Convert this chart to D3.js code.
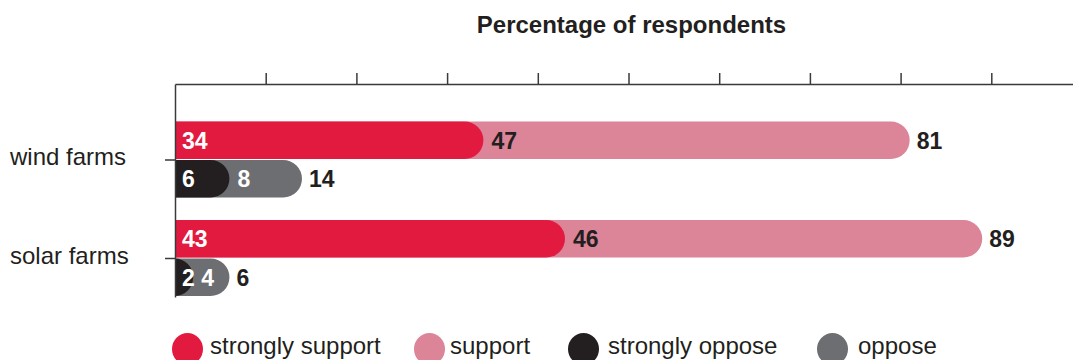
<!DOCTYPE html>
<html>
<head>
<meta charset="utf-8">
<script src="https://cdn.jsdelivr.net/npm/d3@7"></script>
<style>
  html, body { margin: 0; padding: 0; background: #fff; }
  svg { display: block; font-family: "Liberation Sans", Arial, Helvetica, sans-serif; }
</style>
</head>
<body>
<svg id="chart" width="1073" height="360"></svg>
<script>
// Survey results: share of respondents by attitude
const categories = ["wind farms", "solar farms"];
const stronglySupport = [34, 43];
const support = [47, 46];
const stronglyOppose = [6, 2];
const oppose = [8, 4];
const axisTicks = [10, 20, 30, 40, 50, 60, 70, 80, 90];
const legendLabels = ["strongly support", "support", "strongly oppose", "oppose"];
const legendColors = ["#e31a40", "#dc8498", "#231f20", "#6d6e72"];

const textColor = "#231f20";
const axisColor = "#3a3a3a";
const svg = d3.select("#chart");

const x = d3.scaleLinear().domain([0, 100]).range([175, 1082]);
const y = d3.scalePoint().domain(categories).range([160, 258.5]);
const barH = 37.5;
const gap = 1;

// Title
svg.append("text")
  .attr("x", 631.5).attr("y", 33)
  .attr("text-anchor", "middle")
  .attr("font-size", 24).attr("font-weight", "bold")
  .attr("fill", textColor)
  .text("Percentage of respondents");

// Bar with square left edge and rounded right end
function barPath(x0, x1, y0, h) {
  const w = Math.max(0, x1 - x0);
  const ry = h / 2;
  const rx = Math.min(ry, w);
  const y1 = y0 + h;
  return `M${x0},${y0}H${x1 - rx}A${rx},${ry} 0 0 1 ${x1},${y0 + ry}A${rx},${ry} 0 0 1 ${x1 - rx},${y1}H${x0}Z`;
}

const rows = categories.map((c, i) => ({
  cat: c,
  sStrong: stronglySupport[i], sPlain: support[i],
  oStrong: stronglyOppose[i], oPlain: oppose[i]
}));

const barsG = svg.append("g");
const labelG = svg.append("g")
  .attr("font-size", 23).attr("font-weight", "bold");

rows.forEach(r => {
  const yc = y(r.cat);
  const groups = [
    { top: yc - gap - barH, strong: r.sStrong, plain: r.sPlain, cs: legendColors[0], cp: legendColors[1], plainText: textColor },
    { top: yc, strong: r.oStrong, plain: r.oPlain, cs: legendColors[2], cp: legendColors[3], plainText: "#ffffff" }
  ];
  groups.forEach(g => {
    const total = g.strong + g.plain;
    const mid = g.top + barH / 2;
    barsG.append("path").attr("d", barPath(x(0), x(total), g.top, barH)).attr("fill", g.cp);
    barsG.append("path").attr("d", barPath(x(0), x(g.strong), g.top, barH)).attr("fill", g.cs);

    labelG.append("text").attr("x", x(0) + 7).attr("y", mid).attr("dy", "0.36em")
      .attr("fill", "#ffffff").text(g.strong);
    labelG.append("text").attr("x", x(g.strong) + 8).attr("y", mid).attr("dy", "0.36em")
      .attr("fill", g.plainText).text(g.plain);
    labelG.append("text").attr("x", x(total) + 7).attr("y", mid).attr("dy", "0.36em")
      .attr("fill", textColor).text(total);
  });
});

// Top axis (unlabelled ticks)
const axisTop = svg.append("g")
  .attr("transform", "translate(0,84)")
  .call(d3.axisTop(x).tickValues(axisTicks).tickSize(11).tickSizeOuter(0).tickFormat(""));
axisTop.select(".domain").attr("stroke", axisColor).attr("stroke-width", 1.5);
axisTop.selectAll(".tick line").attr("stroke", axisColor).attr("stroke-width", 1.5);

// Left axis with category ticks
const axisLeft = svg.append("g")
  .attr("transform", "translate(175,0)")
  .call(d3.axisLeft(d3.scaleLinear().domain([0, 1]).range([84, 297])).tickValues([]).tickSizeOuter(0));
axisLeft.select(".domain").attr("stroke", axisColor).attr("stroke-width", 1.5);
svg.append("g").selectAll("line").data(categories).join("line")
  .attr("x1", 165).attr("x2", 175)
  .attr("y1", d => y(d)).attr("y2", d => y(d))
  .attr("stroke", axisColor).attr("stroke-width", 1.5);

// Category labels
svg.append("g").selectAll("text").data(categories).join("text")
  .attr("x", 10).attr("y", d => y(d) + 5)
  .attr("font-size", 24).attr("fill", textColor)
  .text(d => d);

// Legend: swatch left edges along the bottom row
const legendX = [172, 414, 568, 817];
const legendTextGap = [7, 5, 9, 10];
const legend = svg.append("g");
legendLabels.forEach((lab, i) => {
  const r = 15.5;
  legend.append("ellipse").attr("cx", legendX[i] + r).attr("cy", 349).attr("rx", r).attr("ry", 16)
    .attr("fill", legendColors[i]);
  legend.append("text").attr("x", legendX[i] + 2 * r + legendTextGap[i]).attr("y", 354)
    .attr("font-size", 24).attr("fill", textColor).text(lab);
});
</script>
</body>
</html>
